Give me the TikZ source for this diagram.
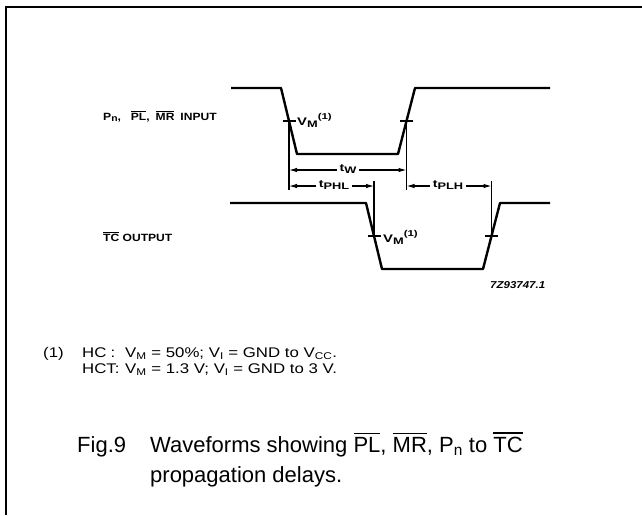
\documentclass[tikz,border=0pt]{standalone}
\usepackage{fontspec}
\setmainfont{Liberation Sans}
\newfontfamily\wavefont[FakeStretch=1.15]{Liberation Sans}
\newfontfamily\widefont[FakeStretch=1.35]{Liberation Sans}
\newfontfamily\notefont[FakeStretch=1.2]{Liberation Sans}
\usetikzlibrary{arrows.meta}
\newcommand\ovl[1]{\leavevmode\vbox{\hrule height 0.07em \kern 0.12em \hbox{#1}}}
\newcommand\wsub[2][9]{\raisebox{-0.35ex}{\fontsize{#1}{10}\selectfont #2}}
\newcommand\wsup[2][8.5]{\raisebox{0.9ex}{\fontsize{#1}{10}\selectfont #2}}
\tikzset{
  wave/.style={line width=2.4pt, line join=round},
  marker/.style={line width=1.1pt},
  dim/.style={line width=1.1pt, -{Latex[length=8pt,width=4.5pt]}},
  wavelbl/.style={font=\wavefont\bfseries\fontsize{10.5}{12}\selectfont, inner sep=0pt},
  vmlbl/.style={font=\widefont\bfseries\fontsize{11}{12}\selectfont, inner sep=0pt},
  tlbl/.style={font=\widefont\bfseries\fontsize{10.5}{12}\selectfont, inner sep=2.5pt},
  notetxt/.style={font=\notefont\fontsize{14}{16}\selectfont, inner sep=0pt, anchor=base west},
  captxt/.style={font=\fontsize{22}{30}\selectfont, inner sep=0pt, anchor=base west},
}
\begin{document}
\begin{tikzpicture}[x=1pt,y=-1pt]
\useasboundingbox (0,0) rectangle (642,515);
% frame
\draw[line width=1.8pt] (6,515) -- (6,7) -- (642,7);
% coordinates
\coordinate (i0) at (231,88);
\coordinate (i1) at (281,88);
\coordinate (i2) at (297,154);
\coordinate (i3) at (398,154);
\coordinate (i4) at (415,88);
\coordinate (i5) at (550,88);
\coordinate (o0) at (230,203);
\coordinate (o1) at (366,203);
\coordinate (o2) at (382,269);
\coordinate (o3) at (483,269);
\coordinate (o4) at (500,203);
\coordinate (o5) at (550,203);
\coordinate (ia) at (289,121);
\coordinate (ib) at (406.5,121);
\coordinate (oa) at (374,236);
\coordinate (ob) at (491.5,236);
\coordinate (ia1) at (289,190);
\coordinate (ib1) at (406.5,190);
\coordinate (oa1) at (374,181);
\coordinate (ob1) at (491.5,181);
\coordinate (twl) at (289,170);
\coordinate (twr) at (406.5,170);
\coordinate (phl) at (289,186);
\coordinate (phr) at (374,186);
\coordinate (plhl) at (406.5,186);
\coordinate (plhr) at (491.5,186);
% waveforms
\draw[wave] (i0) -- (i1) -- (i2) -- (i3) -- (i4) -- (i5);
\draw[wave] (o0) -- (o1) -- (o2) -- (o3) -- (o4) -- (o5);
% markers
\draw[marker] (ia) -- (ia1);
\draw[marker] (ib) -- (ib1);
\draw[marker] (oa) -- (oa1);
\draw[marker] (ob) -- (ob1);
\foreach \c in {ia,ib,oa,ob}{\draw[marker] (\c) ++(-6.5,0) -- ++(13,0);}
% labels
\node[wavelbl, anchor=base west] (inlbl) at (103,120) {P\wsub{n},\hspace{10pt}\ovl{PL},\hspace{6pt}\ovl{MR}\hspace{6pt}INPUT};
\node[wavelbl, anchor=base west] (outlbl) at (103,241) {\ovl{TC} OUTPUT};
\node[vmlbl, anchor=base west] (vm1) at (297,125) {V\wsub[9.5]{M}\wsup{(1)}};
\node[vmlbl, anchor=base west] (vm2) at (383,242) {V\wsub[9.5]{M}\wsup{(1)}};
\node[tlbl] (tw) at (348,169) {t\wsub[9.5]{W}};
\node[tlbl] (tphl) at (334,185) {t\wsub[9.5]{PHL}};
\node[tlbl] (tplh) at (448,185) {t\wsub[9.5]{PLH}};
\draw[dim] (tw.west |- twl) -- (twl);
\draw[dim] (tw.east |- twr) -- (twr);
\draw[dim] (tphl.west |- phl) -- (phl);
\draw[dim] (tphl.east |- phr) -- (phr);
\draw[dim] (tplh.west |- plhl) -- (plhl);
\draw[dim] (tplh.east |- plhr) -- (plhr);
\node[font=\wavefont\bfseries\itshape\fontsize{10}{12}\selectfont, inner sep=0pt, anchor=base west] (code) at (490,288) {7Z93747.1};
% note
\node[notetxt] (n1) at (43,357) {(1)};
\node[notetxt] (n2) at (82,357) {\makebox[43pt][l]{HC\hspace{0.3em}:}V\textsubscript{M} = 50\%; V\textsubscript{I} = GND to V\textsubscript{CC}.};
\node[notetxt] (n3) at (82,373) {\makebox[43pt][l]{HCT:}V\textsubscript{M} = 1.3 V; V\textsubscript{I} = GND to 3 V.};
% caption
\node[captxt] (c1) at (77,452) {Fig.9};
\node[captxt] (c2) at (150,452) {Waveforms showing \ovl{PL}, \ovl{MR}, P\textsubscript{n} to \ovl{TC}};
\node[captxt] (c3) at (150,482) {propagation delays.};
\end{tikzpicture}
\end{document}
